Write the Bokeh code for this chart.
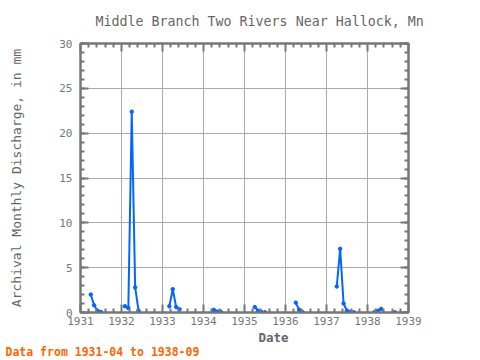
from bokeh.plotting import figure
from bokeh.models import LinearAxis, FixedTicker, ColumnDataSource, CustomJSTickFormatter, Title
from bokeh.embed import file_html
from bokeh.resources import INLINE

# ---- data ----
months = ["1931-04", "1931-05", "1931-06", "1931-07",
          "1932-02", "1932-03", "1932-04", "1932-05", "1932-06",
          "1933-03", "1933-04", "1933-05", "1933-06",
          "1934-04", "1934-05", "1934-06",
          "1935-04", "1935-05", "1935-06", "1935-07",
          "1936-04", "1936-05", "1936-06",
          "1937-04", "1937-05", "1937-06", "1937-07", "1937-08", "1937-09",
          "1938-03", "1938-04", "1938-05",
          "1938-09"]
discharge = [2.0, 0.8, 0.2, 0.05,
             0.7, 0.5, 22.4, 2.8, 0.2,
             0.7, 2.6, 0.6, 0.35,
             0.3, 0.1, 0.1,
             0.6, 0.2, 0.05, 0.02,
             1.1, 0.3, 0.03,
             2.9, 7.1, 1.0, 0.2, 0.05, 0.02,
             0.03, 0.2, 0.4,
             0.02]
year_ticks = [1931, 1932, 1933, 1934, 1935, 1936, 1937, 1938, 1939]
y_ticks = [0, 5, 10, 15, 20, 25, 30]

title_text = "Middle Branch Two Rivers Near Hallock, Mn"
x_label = "Date"
y_label = "Archival Monthly Discharge, in mm"
note_text = "Data from 1931-04 to 1938-09"

# ---- build line with gaps ----
def month_index(s):
    y, m = s.split("-")
    return int(y) * 12 + int(m) - 1

xs, ys = [], []
prev = None
for mo, v in zip(months, discharge):
    idx = month_index(mo)
    if prev is not None and idx - prev > 1:
        xs.append(float("nan"))
        ys.append(float("nan"))
    xs.append(idx / 12.0)
    ys.append(v)
    prev = idx
pts_x = [month_index(mo) / 12.0 for mo in months]

FONT = "DejaVu Sans Mono"
GRAY = "#777777"
TXT = "#666666"
BLUE = "#0066ff"

p = figure(width=480, height=360, output_backend="svg", toolbar_location=None,
           x_range=(1931, 1939), y_range=(0, 30),
           min_border_left=80, min_border_right=72,
           min_border_top=43, min_border_bottom=39)
p.background_fill_color = "white"
p.border_fill_color = "white"
p.outline_line_color = GRAY
p.outline_line_width = 2

p.title.text = title_text
p.title.text_font = FONT
p.title.text_font_size = "13.3px"
p.title.text_font_style = "normal"
p.title.text_color = TXT
p.title.align = "left"
p.title.offset = 15
p.title.standoff = 25
p.title.vertical_align = "top"

xt = FixedTicker(ticks=year_ticks,
                 minor_ticks=[y + k / 5 for y in year_ticks[:-1] for k in range(1, 5)])
yt = FixedTicker(ticks=y_ticks, minor_ticks=list(range(0, 31)))
p.xaxis.ticker = xt
p.yaxis.ticker = yt

def style_axis(ax):
    ax.axis_line_color = GRAY
    ax.axis_line_width = 2
    ax.major_tick_line_color = GRAY
    ax.major_tick_line_width = 2
    ax.minor_tick_line_color = GRAY
    ax.minor_tick_line_width = 2
    ax.major_tick_in = 8
    ax.major_tick_out = 0
    ax.minor_tick_in = 4
    ax.minor_tick_out = 0

for ax in [p.xaxis[0], p.yaxis[0]]:
    style_axis(ax)
    ax.major_label_text_font = FONT
    ax.major_label_text_font_size = "11px"
    ax.major_label_text_color = GRAY
    ax.axis_label_text_font = FONT
    ax.axis_label_text_font_size = "13px"
    ax.axis_label_text_color = TXT
p.xaxis.major_label_standoff = 4
p.yaxis.major_label_standoff = 8
p.yaxis.axis_label = y_label
p.yaxis.axis_label_text_font_style = "normal"
p.yaxis.axis_label_standoff = 32

blank = CustomJSTickFormatter(code="return ''")
top = LinearAxis(ticker=xt, formatter=blank, major_label_standoff=0)
right = LinearAxis(ticker=yt, formatter=blank, major_label_standoff=0)
style_axis(top)
style_axis(right)
p.add_layout(top, "above")
p.add_layout(right, "right")

p.xgrid.grid_line_color = "#aaaaaa"
p.ygrid.grid_line_color = "#aaaaaa"

src = ColumnDataSource(dict(x=xs, y=ys))
p.line("x", "y", source=src, line_color=BLUE, line_width=2)
p.scatter(pts_x, discharge, size=3.5, color=BLUE)

date_title = Title(text=x_label, text_font=FONT, text_font_size="12.5px",
                   text_font_style="bold", text_color=TXT, align="left",
                   offset=178, standoff=0)
p.add_layout(date_title, "below")
note = Title(text=note_text, text_font=FONT, text_font_size="11.5px",
             text_font_style="bold", text_color="#ff6600", align="left",
             offset=-75, standoff=0, vertical_align="top")
p.add_layout(note, "below")

open("out.html", "w").write(file_html(p, INLINE))
